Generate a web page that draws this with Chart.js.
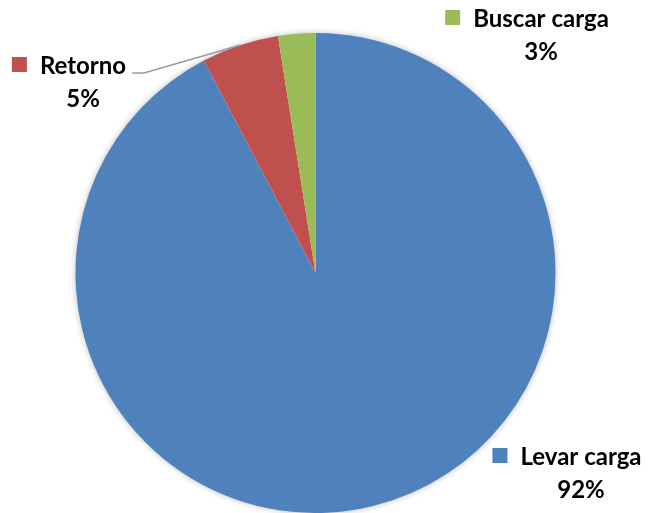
<!DOCTYPE html>
<html>
<head>
<meta charset="utf-8">
<script src="https://cdn.jsdelivr.net/npm/chart.js@4"></script>
<style>
html, body { margin: 0; padding: 0; background: #fff; }
#wrap { width: 648px; height: 513px; }
</style>
</head>
<body>
<div id="wrap"><canvas id="grafico" width="648" height="513"></canvas></div>
<script>
// Dados do gráfico
const categorias = ['Levar carga', 'Retorno', 'Buscar carga'];
const valores = [92.3, 5.2, 2.5];
const cores = ['#4F81BD', '#C0504D', '#9BBB59'];

// Posição dos rótulos (centro do nome e linha de base)
const posRotulos = [
    { x: 581, y: 465 },
    { x: 83, y: 74 },
    { x: 541, y: 27 }
];

const fonteRotulo = 'bold 24px Lato, "Liberation Sans", sans-serif';

// Sombra suave em volta da pizza
const sombraPizza = {
    id: 'sombraPizza',
    beforeDatasetsDraw(chart) {
        const arco = chart.getDatasetMeta(0).data[0];
        if (!arco) return;
        const ctx = chart.ctx;
        ctx.save();
        ctx.shadowColor = 'rgba(0,0,0,0.35)';
        ctx.shadowBlur = 7;
        ctx.fillStyle = '#fff';
        ctx.beginPath();
        ctx.arc(arco.x, arco.y, arco.outerRadius - 1, 0, Math.PI * 2);
        ctx.fill();
        ctx.restore();
    }
};

// Rótulos com quadradinho da cor, nome e percentual
const rotulosPizza = {
    id: 'rotulosPizza',
    afterDatasetsDraw(chart) {
        const ctx = chart.ctx;
        const arcos = chart.getDatasetMeta(0).data;
        const total = valores.reduce((a, b) => a + b, 0);
        ctx.save();
        ctx.font = fonteRotulo;
        ctx.textBaseline = 'alphabetic';
        ctx.textAlign = 'center';
        categorias.forEach((nome, i) => {
            const p = posRotulos[i];
            const w = ctx.measureText(nome).width;
            ctx.fillStyle = cores[i];
            ctx.fillRect(p.x - w / 2 - 28, p.y - 17, 15, 15);
            ctx.fillStyle = '#000';
            ctx.fillText(nome, p.x, p.y);
            ctx.fillText(Math.round(valores[i] / total * 100) + '%', p.x, p.y + 33);

            // linha guia só para o Retorno
            if (nome === 'Retorno') {
                const a = arcos[i];
                const meio = (a.startAngle + a.endAngle) / 2;
                const px = a.x + Math.cos(meio) * a.outerRadius;
                const py = a.y + Math.sin(meio) * a.outerRadius;
                const x0 = p.x + w / 2 + 6;
                ctx.strokeStyle = '#999999';
                ctx.lineWidth = 1.5;
                ctx.beginPath();
                ctx.moveTo(x0, p.y - 1);
                ctx.lineTo(x0 + 12, p.y - 1);
                ctx.lineTo(px, py);
                ctx.stroke();
            }
        });
        ctx.restore();
    }
};

const ctxGrafico = document.getElementById('grafico').getContext('2d');
new Chart(ctxGrafico, {
    type: 'pie',
    data: {
        labels: categorias,
        datasets: [{
            data: valores,
            backgroundColor: cores,
            borderWidth: 0,
            hoverOffset: 0
        }]
    },
    options: {
        responsive: false,
        devicePixelRatio: 1,
        animation: false,
        layout: {
            padding: { top: 33, left: 0, right: 17, bottom: 0 }
        },
        plugins: {
            legend: { display: false },
            tooltip: { enabled: false }
        }
    },
    plugins: [sombraPizza, rotulosPizza]
});
</script>
</body>
</html>
